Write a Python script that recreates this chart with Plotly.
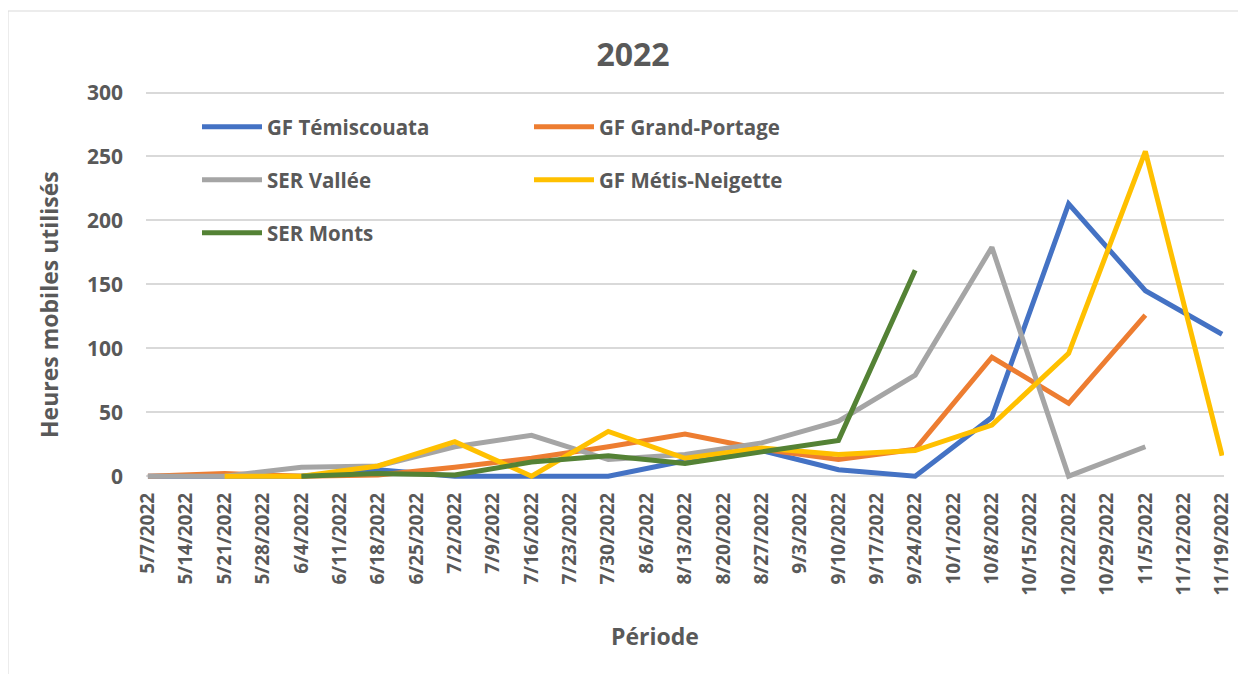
import plotly.graph_objects as go

dates_all = ["5/7/2022", "5/14/2022", "5/21/2022", "5/28/2022", "6/4/2022", "6/11/2022",
             "6/18/2022", "6/25/2022", "7/2/2022", "7/9/2022", "7/16/2022", "7/23/2022",
             "7/30/2022", "8/6/2022", "8/13/2022", "8/20/2022", "8/27/2022", "9/3/2022",
             "9/10/2022", "9/17/2022", "9/24/2022", "10/1/2022", "10/8/2022", "10/15/2022",
             "10/22/2022", "10/29/2022", "11/5/2022", "11/12/2022", "11/19/2022"]

temiscouata_x = ["5/7/2022", "5/21/2022", "6/4/2022", "6/18/2022", "7/2/2022", "7/16/2022",
                 "7/30/2022", "8/13/2022", "8/27/2022", "9/10/2022", "9/24/2022", "10/8/2022",
                 "10/22/2022", "11/5/2022", "11/19/2022"]
temiscouata_y = [0, 0, 0, 5, 0, 0, 0, 12, 20, 5, 0, 46, 213, 145, 111]

grand_portage_x = ["5/7/2022", "5/21/2022", "6/4/2022", "6/18/2022", "7/2/2022", "7/16/2022",
                   "7/30/2022", "8/13/2022", "8/27/2022", "9/10/2022", "9/24/2022", "10/8/2022",
                   "10/22/2022", "11/5/2022"]
grand_portage_y = [0, 2, 0, 1, 7, 14, 23, 33, 21, 13, 21, 93, 57, 126]

vallee_x = ["5/7/2022", "5/21/2022", "6/4/2022", "6/18/2022", "7/2/2022", "7/16/2022",
            "7/30/2022", "8/13/2022", "8/27/2022", "9/10/2022", "9/24/2022", "10/8/2022",
            "10/22/2022", "11/5/2022"]
vallee_y = [0, 0, 7, 8, 23, 32, 13, 17, 26, 43, 79, 179, 0, 23]

metis_x = ["5/21/2022", "6/4/2022", "6/18/2022", "7/2/2022", "7/16/2022", "7/30/2022",
           "8/13/2022", "8/27/2022", "9/10/2022", "9/24/2022", "10/8/2022", "10/22/2022",
           "11/5/2022", "11/19/2022"]
metis_y = [0, 0, 8, 27, 0, 35, 14, 22, 17, 20, 40, 96, 254, 16]

monts_x = ["6/4/2022", "6/18/2022", "7/2/2022", "7/16/2022", "7/30/2022", "8/13/2022",
           "8/27/2022", "9/10/2022", "9/24/2022"]
monts_y = [0, 2, 1, 11, 16, 10, 19, 28, 161]

series = [
    ("GF Témiscouata", temiscouata_x, temiscouata_y, "#4472C4", "legend"),
    ("GF Grand-Portage", grand_portage_x, grand_portage_y, "#ED7D31", "legend"),
    ("SER Vallée", vallee_x, vallee_y, "#A5A5A5", "legend2"),
    ("GF Métis-Neigette", metis_x, metis_y, "#FFC000", "legend2"),
    ("SER Monts", monts_x, monts_y, "#548235", "legend3"),
]

FONT = "Open Sans"
TXT = "#595959"

fig = go.Figure()
for name, xs, ys, color, lg in series:
    fig.add_trace(go.Scatter(x=xs, y=ys, name=name, mode="lines",
                             line=dict(color=color, width=5),
                             legend=lg))

# plot area in figure pixels (page is offset by 8px body margin)
L, R, T, B = 138, 1216, 82, 472
W, H = R - L, B - T


def px(x):
    return (x - L) / W


def py(y):
    return (B - y) / H


legend_common = dict(orientation="h", xanchor="left", yanchor="middle",
                     bgcolor="rgba(0,0,0,0)", itemwidth=60, entrywidth=257,
                     font=dict(family=FONT, size=20.5, color=TXT, weight="bold"),
                     itemclick=False, itemdoubleclick=False)

axis_title_font = dict(family=FONT, size=23, color=TXT, weight="bold")

fig.update_layout(
    width=1246, height=674,
    margin=dict(l=L, r=1246 - R, t=T, b=674 - B, autoexpand=False),
    paper_bgcolor="white", plot_bgcolor="white",
    title=dict(text="2022", x=625 / 1246, xanchor="center", y=1 - 47 / 674, yanchor="middle",
               font=dict(family=FONT, size=32, color=TXT, weight="bold")),
    xaxis=dict(type="category", categoryorder="array", categoryarray=dates_all,
               range=[-0.05, 28.05], tickmode="array", tickvals=dates_all, ticktext=dates_all,
               tickangle=-90, showgrid=False, zeroline=False, showline=False, ticks="",
               ticklabelstandoff=8,
               tickfont=dict(family=FONT, size=19, color=TXT, weight="bold")),
    yaxis=dict(range=[-3, 302], tickmode="linear", tick0=0, dtick=50,
               showgrid=True, gridcolor="#D9D9D9", gridwidth=1.5, zeroline=False,
               showline=False, ticks="", ticklabelstandoff=22,
               tickfont=dict(family=FONT, size=21, color=TXT, weight="bold")),
    legend=dict(x=px(189), y=py(119), **legend_common),
    legend2=dict(x=px(189), y=py(172), **legend_common),
    legend3=dict(x=px(189), y=py(225), **legend_common),
    showlegend=True,
    annotations=[
        dict(text="Période", xref="paper", yref="paper", x=px(647), y=py(628),
             xanchor="center", yanchor="middle", showarrow=False, font=axis_title_font),
        dict(text="Heures mobiles utilisés", xref="paper", yref="paper", x=px(41), y=py(297),
             xanchor="center", yanchor="middle", textangle=-90, showarrow=False,
             font=axis_title_font),
    ],
    shapes=[dict(type="rect", xref="paper", yref="paper",
                 x0=px(0), x1=px(1232), y0=py(700), y1=py(3),
                 line=dict(color="#D9D9D9", width=1), fillcolor="rgba(0,0,0,0)", layer="below")],
)

fig.write_html("out.html")
